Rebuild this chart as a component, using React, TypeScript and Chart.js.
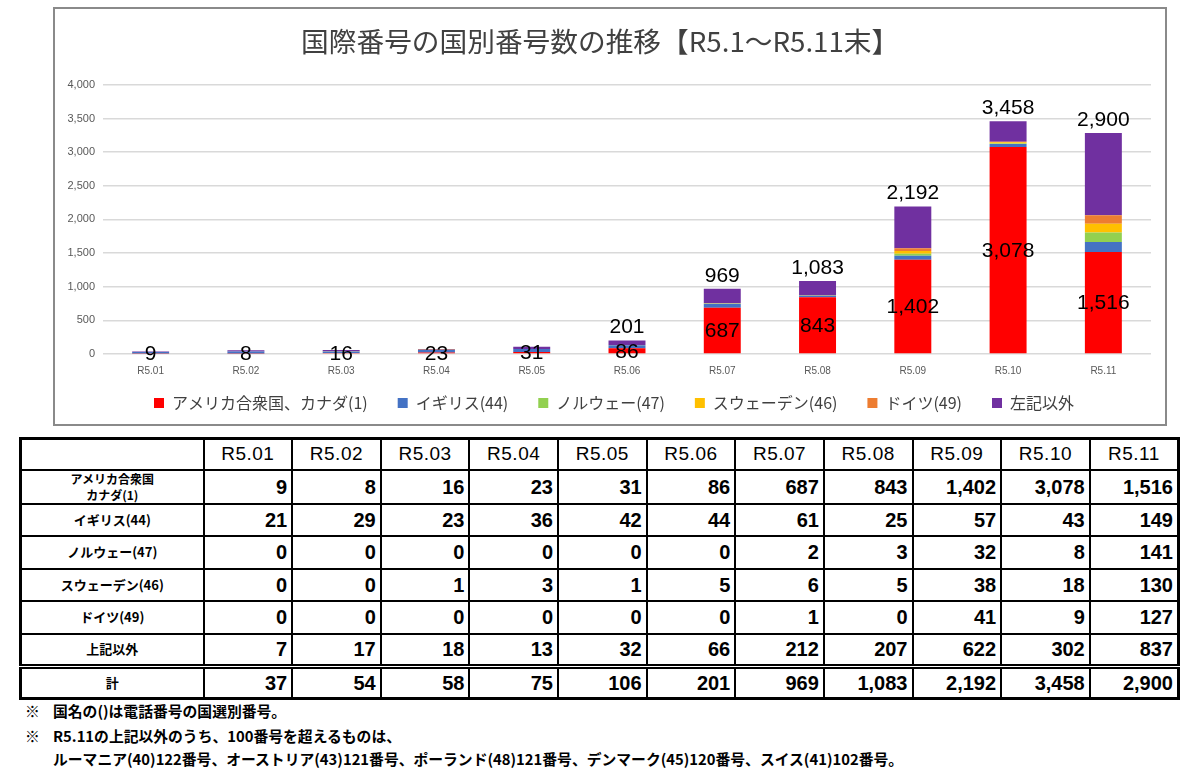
import React, { useEffect, useRef } from "react";
import { Chart, registerables } from "chart.js";

Chart.register(...registerables);

// ---- data ----
const months = ["R5.01", "R5.02", "R5.03", "R5.04", "R5.05", "R5.06", "R5.07", "R5.08", "R5.09", "R5.10", "R5.11"];
const seriesNames = ["アメリカ合衆国、カナダ(1)", "イギリス(44)", "ノルウェー(47)", "スウェーデン(46)", "ドイツ(49)", "左記以外"];
const rowNames = ["アメリカ合衆国\nカナダ(1)", "イギリス(44)", "ノルウェー(47)", "スウェーデン(46)", "ドイツ(49)", "上記以外"];
const totalRowName = "計";
const usCanada = [9, 8, 16, 23, 31, 86, 687, 843, 1402, 3078, 1516];
const uk = [21, 29, 23, 36, 42, 44, 61, 25, 57, 43, 149];
const norway = [0, 0, 0, 0, 0, 0, 2, 3, 32, 8, 141];
const sweden = [0, 0, 1, 3, 1, 5, 6, 5, 38, 18, 130];
const germany = [0, 0, 0, 0, 0, 0, 1, 0, 41, 9, 127];
const others = [7, 17, 18, 13, 32, 66, 212, 207, 622, 302, 837];
// the "左記以外" segment as drawn in the chart (R5.11 bar is drawn taller than the table value)
const othersBar = [7, 17, 18, 13, 32, 66, 212, 207, 622, 302, 1220];
const totals = [37, 54, 58, 75, 106, 201, 969, 1083, 2192, 3458, 2900];
const totalLabelFromIndex = 5;
const yMax = 4000;
const yStep = 500;
const title = "国際番号の国別番号数の推移【R5.1～R5.11末】";
const notes = [
  { mark: "※", text: "国名の()は電話番号の国選別番号。" },
  { mark: "※", text: "R5.11の上記以外のうち、100番号を超えるものは、" },
  { mark: "", text: "ルーマニア(40)122番号、オーストリア(43)121番号、ポーランド(48)121番号、デンマーク(45)120番号、スイス(41)102番号。" },
];

const colors = ["#FF0000", "#4472C4", "#92D050", "#FFC000", "#ED7D31", "#7030A0"];
const tableRows = [usCanada, uk, norway, sweden, germany, others];
const chartSeries = [usCanada, uk, norway, sweden, germany, othersBar];

const fmt = (n: number) => Number(n).toLocaleString("en-US");
const JP = "'Noto Sans CJK JP', 'Noto Sans', sans-serif";
const LAT = "'Liberation Sans', Arial, sans-serif";

const labelPlugin = {
  id: "barLabels",
  afterDatasetsDraw(chart: any) {
    const ctx = chart.ctx;
    ctx.save();
    ctx.font = `21px ${LAT}`;
    ctx.fillStyle = "#000";
    ctx.textAlign = "center";
    ctx.textBaseline = "middle";
    const red = chart.getDatasetMeta(0);
    red.data.forEach((el: any, i: number) => {
      const p = el.getProps(["x", "y", "base"], true);
      ctx.fillText(fmt(usCanada[i]), p.x, (p.y + p.base) / 2 + 1);
    });
    const top = chart.getDatasetMeta(chart.data.datasets.length - 1);
    top.data.forEach((el: any, i: number) => {
      if (i < totalLabelFromIndex) return;
      const p = el.getProps(["x", "y"], true);
      ctx.fillText(fmt(totals[i]), p.x, p.y - 13);
    });
    ctx.restore();
  },
};

export default function App() {
  const ref = useRef<HTMLCanvasElement>(null);
  useEffect(() => {
    if (!ref.current) return;
    const chart = new Chart(ref.current, {
      type: "bar",
      data: {
        labels: months,
        datasets: chartSeries.map((d, i) => ({
          label: seriesNames[i],
          data: d,
          backgroundColor: colors[i],
          borderWidth: 0,
        })),
      },
      options: {
        responsive: false,
        animation: false,
        layout: { padding: { left: 0, right: 0, top: 0, bottom: 3 } },
        datasets: { bar: { categoryPercentage: 0.8, barPercentage: 0.485 } },
        plugins: {
          title: {
            display: true,
            text: title + "\u3000\u2002",
            color: "#404040",
            font: { family: JP, size: 27.7, weight: "normal" },
            padding: { top: 16.2, bottom: 26.4 },
          },
          legend: {
            position: "bottom",
            labels: {
              color: "#404040",
              font: { family: JP, size: 16 },
              boxWidth: 10,
              boxHeight: 10,
              padding: 14,
              generateLabels: (c: any) => {
                const items = (Chart as any).defaults.plugins.legend.labels.generateLabels(c);
                return items.map((it: any, i: number) => ({
                  ...it,
                  text: i < items.length - 1 ? it.text + "\u3000" : it.text,
                }));
              },
            },
          },
          tooltip: { enabled: false },
        },
        scales: {
          x: {
            stacked: true,
            grid: { display: false, drawTicks: false },
            border: { display: false },
            ticks: { padding: 11, color: "#595959", font: { family: LAT, size: 10 }, maxRotation: 0, autoSkip: false },
            afterFit: (s: any) => {
              s.height = 27;
            },
          },
          y: {
            stacked: true,
            min: 0,
            max: yMax,
            grid: { color: "#d9d9d9", lineWidth: 1.5, drawTicks: false },
            border: { display: false },
            ticks: {
              stepSize: yStep,
              padding: 8,
              color: "#595959",
              font: { family: LAT, size: 11 },
              callback: (v: any) => fmt(v),
            },
            afterFit: (s: any) => {
              s.width = 48;
            },
          },
          yRightSpace: {
            type: "linear",
            position: "right",
            min: 0,
            max: yMax,
            grid: { display: false, drawTicks: false },
            border: { display: false },
            ticks: { display: false },
            afterFit: (s: any) => {
              s.width = 22;
            },
          },
        },
      },
      plugins: [labelPlugin],
    } as any);
    return () => chart.destroy();
  }, []);

  const cell: React.CSSProperties = {
    border: "2px solid #000",
    padding: "0 4px",
    textAlign: "right",
    fontFamily: LAT,
    fontWeight: 700,
    fontSize: 20,
    color: "#000",
    lineHeight: "22px",
  };
  const head: React.CSSProperties = { ...cell, textAlign: "center", fontWeight: 400, fontSize: 19, letterSpacing: 0.5 };
  const rowHead: React.CSSProperties = {
    ...cell,
    textAlign: "center",
    fontFamily: JP,
    fontSize: 13,
    lineHeight: "16px",
    whiteSpace: "pre-line",
  };
  const totalBorder: React.CSSProperties = { borderTop: "5px double #000" };

  return (
    <div style={{ position: "absolute", left: 0, top: 0, width: 1200, height: 782, background: "#fff", fontFamily: JP, overflow: "hidden" }}>
      <div style={{ position: "absolute", left: 53, top: 7, width: 1114, height: 419, border: "2px solid #8a8a8a", boxSizing: "border-box" }} />
      <canvas ref={ref} width={1118} height={415} style={{ position: "absolute", left: 55, top: 9, width: 1118, height: 415 }} />
      <table
        style={{
          position: "absolute",
          left: 19,
          top: 437,
          width: 1161,
          borderCollapse: "collapse",
          tableLayout: "fixed",
          border: "3px solid #000",
        }}
      >
        <colgroup>
          <col style={{ width: 183 }} />
          {months.map((m) => (
            <col key={m} />
          ))}
        </colgroup>
        <tbody>
          <tr style={{ height: 31 }}>
            <td style={rowHead}></td>
            {months.map((m) => (
              <td key={m} style={head}>
                {m}
              </td>
            ))}
          </tr>
          {tableRows.map((row, r) => (
            <tr key={r} style={{ height: r === 0 ? 34 : 32.5 }}>
              <td style={{ ...rowHead, fontSize: r === 0 ? 12 : 13 }}>{rowNames[r]}</td>
              {row.map((v, i) => (
                <td key={i} style={cell}>
                  {fmt(v)}
                </td>
              ))}
            </tr>
          ))}
          <tr style={{ height: 32 }}>
            <td style={{ ...rowHead, ...totalBorder }}>{totalRowName}</td>
            {totals.map((v, i) => (
              <td key={i} style={{ ...cell, ...totalBorder }}>
                {fmt(v)}
              </td>
            ))}
          </tr>
        </tbody>
      </table>
      {notes.map((n, i) => {
        const top = [701, 726, 748.5][i];
        const st: React.CSSProperties = {
          position: "absolute",
          top,
          fontSize: 14.8,
          fontWeight: 700,
          lineHeight: "20px",
          whiteSpace: "nowrap",
          color: "#000",
          fontFamily: JP,
        };
        return (
          <React.Fragment key={i}>
            {n.mark ? <div style={{ ...st, left: 25 }}>{n.mark}</div> : null}
            <div style={{ ...st, left: 53 }}>{n.text}</div>
          </React.Fragment>
        );
      })}
    </div>
  );
}
